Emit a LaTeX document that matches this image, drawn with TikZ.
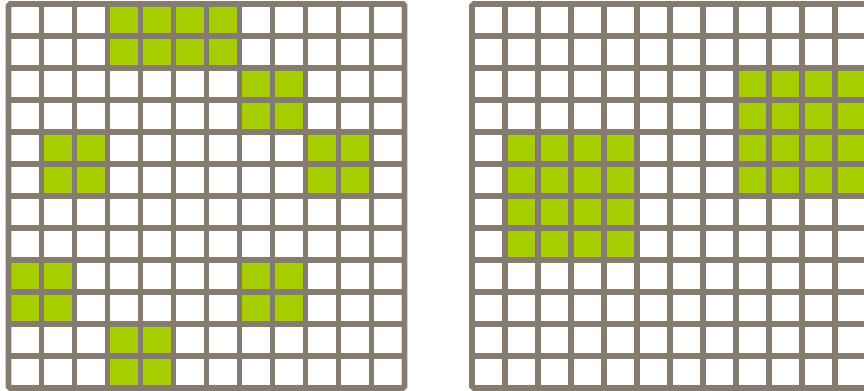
\documentclass[tikz,border=0pt]{standalone}
\definecolor{gridgray}{RGB}{133,123,110}
\definecolor{leafgreen}{RGB}{166,205,0}
\begin{document}
\begin{tikzpicture}[
    x=0.03cm, y=-0.03cm,
    leaf/.style={fill=leafgreen},
    gridline/.style={draw=gridgray, line width=0.17cm, line cap=rect},
    border/.style={draw=gridgray, line width=0.17cm, rounded corners=1.5}
]
    \useasboundingbox (0,0) rectangle (864,391);

    % left board
    \foreach \c/\r in {3/0,4/0,5/0,6/0,3/1,4/1,5/1,6/1,7/2,8/2,7/3,8/3,
                       1/4,2/4,9/4,10/4,1/5,2/5,9/5,10/5,
                       0/8,1/8,7/8,8/8,0/9,1/9,7/9,8/9,3/10,4/10,3/11,4/11} {
        \fill[leaf] (8.5+33*\c,4+32*\r) rectangle ++(33,32);
    }
    % right board
    \foreach \c/\r in {1/4,2/4,3/4,4/4,1/5,2/5,3/5,4/5,1/6,2/6,3/6,4/6,1/7,2/7,3/7,4/7,
                       8/2,9/2,10/2,11/2,8/3,9/3,10/3,11/3,8/4,9/4,10/4,11/4,8/5,9/5,10/5,11/5} {
        \fill[leaf] (472+33*\c,4+32*\r) rectangle ++(33,32);
    }

    \foreach \ox in {8.5,472} {
        \foreach \i in {1,...,11} {
            \draw[gridline] (\ox+33*\i,4) -- (\ox+33*\i,388);
            \draw[gridline] (\ox,4+32*\i) -- (\ox+396,4+32*\i);
        }
        \draw[border] (\ox,4) rectangle (\ox+396,388);
    }
\end{tikzpicture}
\end{document}
